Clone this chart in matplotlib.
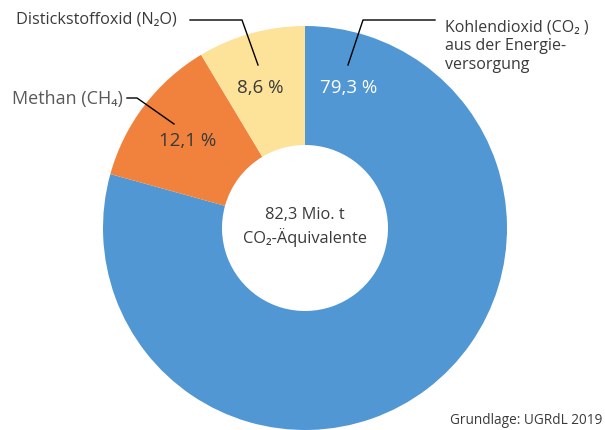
import matplotlib
matplotlib.use("Agg")
import matplotlib.pyplot as plt

# Daten
kategorien = ["Kohlendioxid (CO₂ )\naus der Energie-\nversorgung", "Methan (CH₄)", "Distickstoffoxid (N₂O)"]
anteile = [79.3, 12.1, 8.6]
anteil_texte = ["79,3 %", "12,1 %", "8,6 %"]
farben = ["#5197d3", "#f0823e", "#fde39a"]
mitte_text = "82,3 Mio. t\nCO₂-Äquivalente"
quelle = "Grundlage: UGRdL 2019"

plt.rcParams['font.family'] = ['Open Sans', 'DejaVu Sans']
grau = "#3a3a3a"

W, H = 605, 430
fig = plt.figure(figsize=(W / 100, H / 100), dpi=100)
ax = fig.add_axes([0, 0, 1, 1])


def py(y):
    # Pixel-y von oben nach Datenkoordinate
    return H - y


cx, cy, r_aussen, r_innen = 305, py(228), 202, 83
ax.pie(anteile, colors=farben, startangle=90, counterclock=False,
       radius=r_aussen, center=(cx, cy), frame=True,
       wedgeprops=dict(width=r_aussen - r_innen, edgecolor="none"))
ax.set_xlim(0, W)
ax.set_ylim(0, H)
ax.set_aspect("equal")
ax.axis("off")

# Prozentwerte
ax.text(349, py(88), anteil_texte[0], color="white", fontsize=13.5, ha="center", va="center")
ax.text(188, py(141), anteil_texte[1], color=grau, fontsize=13.5, ha="center", va="center")
ax.text(260, py(88), anteil_texte[2], color=grau, fontsize=13.5, ha="center", va="center")

# Beschriftungen mit Linien
ax.text(445, py(19), kategorien[0], color=grau, fontsize=11.5, va="top", ha="left",
        linespacing=1.25)
ax.plot([435, 363, 348], [py(20), py(20), py(65)], color="black", lw=1)

ax.text(123, py(99), kategorien[1], color="#5a5a5a", fontsize=13, ha="right", va="center")
ax.plot([127, 137, 174], [py(98), py(98), py(124)], color="black", lw=1)

ax.text(177, py(20), kategorien[2], color=grau, fontsize=11.7, ha="right", va="center")
ax.plot([190, 242, 258], [py(20), py(20), py(65)], color="black", lw=1)

# Mitte
ax.text(cx, py(227), mitte_text, color=grau, fontsize=11.8, ha="center", va="center",
        linespacing=1.3)

ax.text(602, py(421), quelle, color=grau, fontsize=9.8, ha="right", va="center")

fig.savefig("out.png", dpi=100)
